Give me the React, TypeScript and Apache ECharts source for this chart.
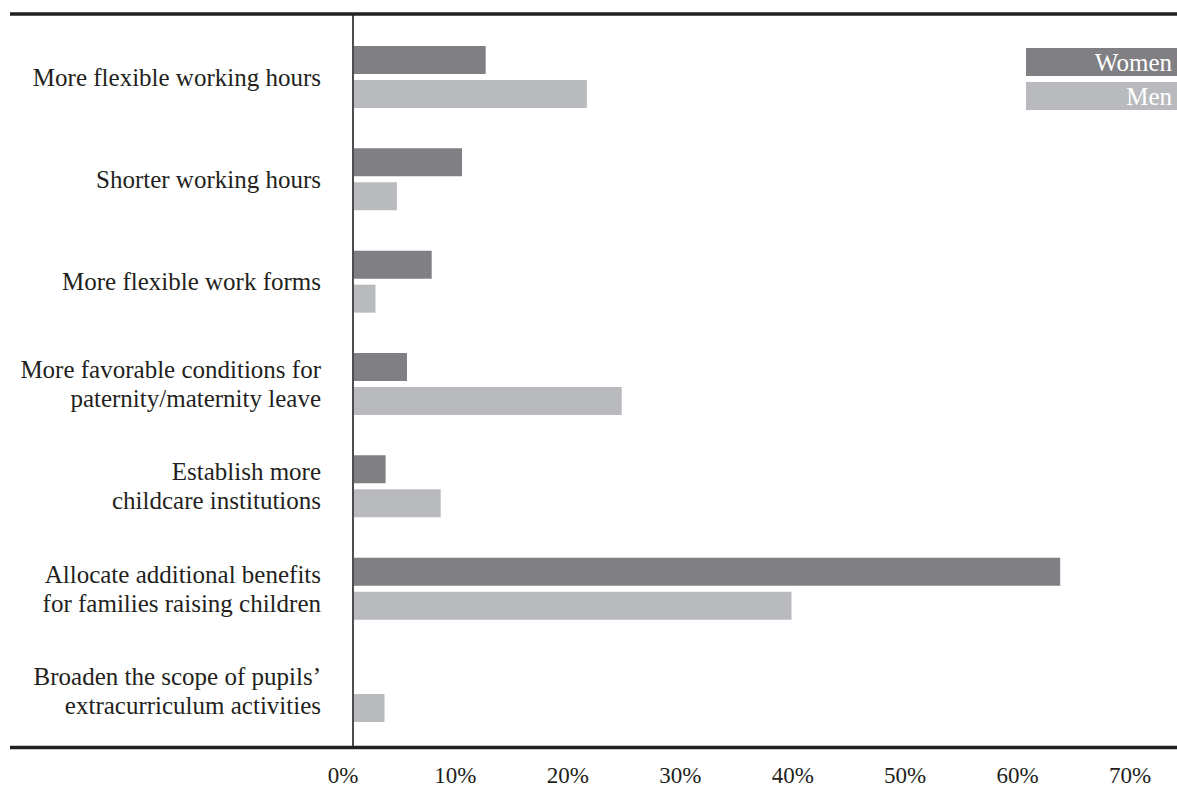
import React, { useEffect, useRef } from "react";
import * as echarts from "echarts";

const categories = [
  "More flexible working hours",
  "Shorter working hours",
  "More flexible work forms",
  "More favorable conditions for\npaternity/maternity leave",
  "Establish more\nchildcare institutions",
  "Allocate additional benefits\nfor families raising children",
  "Broaden the scope of pupils’\nextracurriculum activities",
];
const seriesNames = ["Women", "Men"];
const womenValues = [11.8, 9.7, 7.0, 4.8, 2.9, 62.9, 0];
const menValues = [20.8, 3.9, 2.0, 23.9, 7.8, 39.0, 2.8];
const seriesColors = ["#807f84", "#b9babe"];
const xTicks = { min: 0, max: 70, interval: 10 };

const FONT = "'Liberation Serif', 'Times New Roman', serif";
const TEXT = "#231f20";

export default function App() {
  const ref = useRef<HTMLDivElement>(null);
  useEffect(() => {
    if (!ref.current) return;
    const chart = echarts.init(ref.current, null, { renderer: "svg" });
    const legendGraphics: any[] = [];
    seriesNames.forEach((name, i) => {
      const y = 48 + i * 34;
      legendGraphics.push({
        type: "rect",
        shape: { x: 1026, y, width: 151, height: 28 },
        style: { fill: seriesColors[i] },
        silent: true,
      });
      legendGraphics.push({
        type: "text",
        x: 1172,
        y: y + 14,
        style: {
          text: name,
          fill: "#ffffff",
          font: `25px ${FONT}`,
          textAlign: "right",
          textVerticalAlign: "middle",
        },
        silent: true,
      });
    });
    chart.setOption({
      animation: false,
      backgroundColor: "#ffffff",
      grid: { left: 353, right: 37, top: 25.85, bottom: 46.85, containLabel: false },
      xAxis: {
        type: "value",
        min: xTicks.min,
        max: xTicks.max,
        interval: xTicks.interval,
        axisLine: { show: false },
        axisTick: { show: false },
        splitLine: { show: false },
        axisLabel: {
          formatter: "{value}%",
          fontFamily: FONT,
          fontSize: 23,
          color: TEXT,
          margin: 22,
          padding: [0, 20, 0, 0],
        },
      },
      yAxis: {
        type: "category",
        inverse: true,
        data: categories,
        axisLine: { show: false },
        axisTick: { show: false },
        splitLine: { show: false },
        axisLabel: {
          fontFamily: FONT,
          fontSize: 25,
          lineHeight: 29,
          color: TEXT,
          margin: 32,
          align: "right",
        },
      },
      series: [
        {
          name: seriesNames[0],
          type: "bar",
          data: womenValues,
          barWidth: 28,
          barGap: "21.4%",
          itemStyle: { color: seriesColors[0] },
        },
        {
          name: seriesNames[1],
          type: "bar",
          data: menValues,
          barWidth: 28,
          barGap: "21.4%",
          itemStyle: { color: seriesColors[1] },
        },
      ],
      graphic: [
        {
          type: "line",
          shape: { x1: 353, y1: 14, x2: 353, y2: 747 },
          style: { stroke: "#4d4d4f", lineWidth: 2 },
          silent: true,
          z: 10,
        },
        {
          type: "line",
          shape: { x1: 10, y1: 14, x2: 1177, y2: 14 },
          style: { stroke: TEXT, lineWidth: 3.5 },
          silent: true,
          z: 11,
        },
        {
          type: "line",
          shape: { x1: 10, y1: 747.5, x2: 1177, y2: 747.5 },
          style: { stroke: TEXT, lineWidth: 3.5 },
          silent: true,
          z: 11,
        },
        ...legendGraphics,
      ],
    });
    return () => chart.dispose();
  }, []);
  return (
    <div
      ref={ref}
      style={{ position: "fixed", left: 0, top: 0, width: 1177, height: 789 }}
    />
  );
}
